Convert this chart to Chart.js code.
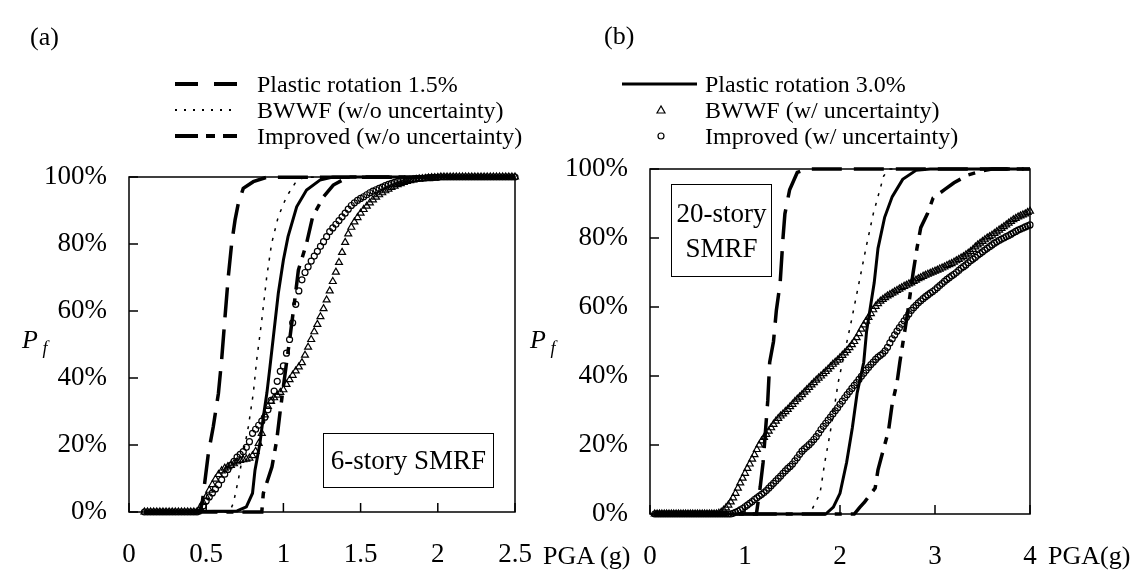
<!DOCTYPE html>
<html>
<head>
<meta charset="utf-8">
<script src="https://cdn.jsdelivr.net/npm/chart.js@4.4.1/dist/chart.umd.min.js"></script>
<style>
  body { margin: 0; background: #fff; }
  #wrap { position: relative; width: 1134px; height: 570px; overflow: hidden;
          font-family: "Liberation Serif", "Times New Roman", serif; color: #000; }
  canvas { position: absolute; top: 0; }
  .t { position: absolute; white-space: nowrap; line-height: 1; transform: translateY(-50%); }
  .box { position: absolute; border: 1.5px solid #000; box-sizing: border-box;
         display: flex; flex-direction: column; align-items: center; justify-content: center;
         font-size: 27px; line-height: 35px; }
  svg { position: absolute; left: 0; top: 0; }
</style>
</head>
<body>
<div id="wrap">
  <canvas id="chartA" width="567" height="570" style="left:0"></canvas>
  <canvas id="chartB" width="567" height="570" style="left:567px"></canvas>

  <svg width="1134" height="570">
    <line x1="175" y1="84" x2="237" y2="84" stroke="#000" stroke-width="4" stroke-dasharray="23 16"/>
    <line x1="175" y1="110" x2="237" y2="110" stroke="#000" stroke-width="2" stroke-dasharray="2 7"/>
    <line x1="175" y1="136" x2="237" y2="136" stroke="#000" stroke-width="4" stroke-dasharray="23 8 9 8"/>
    <line x1="622" y1="84" x2="697" y2="84" stroke="#000" stroke-width="3"/>
    <polygon points="661,106 657,113 665,113" fill="none" stroke="#000" stroke-width="1.2"/>
    <circle cx="661" cy="136" r="3" fill="none" stroke="#000" stroke-width="1.2"/>
  </svg>

  <div class="t" style="left:30px;top:37px;font-size:26px">(a)</div>
  <div class="t" style="left:604px;top:36px;font-size:26px">(b)</div>

  <div class="t" style="left:257px;top:84px;font-size:24px">Plastic rotation 1.5%</div>
  <div class="t" style="left:257px;top:110px;font-size:24px">BWWF (w/o uncertainty)</div>
  <div class="t" style="left:257px;top:136px;font-size:24px">Improved (w/o uncertainty)</div>
  <div class="t" style="left:705px;top:84px;font-size:24px">Plastic rotation 3.0%</div>
  <div class="t" style="left:705px;top:110px;font-size:24px">BWWF (w/ uncertainty)</div>
  <div class="t" style="left:705px;top:136px;font-size:24px">Improved (w/ uncertainty)</div>

  <div class="t" style="left:22px;top:342px;font-size:26px"><i>P</i><sub style="font-size:18px"><i> f</i></sub></div>
  <div class="t" style="left:530px;top:342px;font-size:26px"><i>P</i><sub style="font-size:18px"><i> f</i></sub></div>

  <div class="t" style="left:543px;top:556px;font-size:26px">PGA (g)</div>
  <div class="t" style="left:1048px;top:556px;font-size:26px">PGA(g)</div>

  <div class="box" style="left:323px;top:433px;width:171px;height:55px">6-story SMRF</div>
  <div class="box" style="left:671px;top:184px;width:101px;height:93px"><span>20-story</span><span>SMRF</span></div>
</div>

<script>
// ---------- panel (a): 6-story SMRF ----------
const a_rot15_x = [0.1, 0.46, 0.475, 0.514, 0.546, 0.579, 0.6, 0.622, 0.643, 0.665, 0.687, 0.708, 0.74, 0.805, 0.89, 2.5];
const a_rot15_y = [0, 0, 3, 17.5, 25.5, 35.4, 45.4, 58.3, 70.2, 80.2, 87.2, 92.1, 96.6, 98.6, 99.9, 100];

const a_bwwfDet_x = [0.1, 0.65, 0.676, 0.708, 0.74, 0.773, 0.805, 0.827, 0.86, 0.892, 0.924, 0.967, 1.02, 1.075, 1.13, 2.5];
const a_bwwfDet_y = [0, 0, 2.6, 9.6, 17.5, 25.5, 35.4, 45.4, 57.3, 70.2, 80.2, 88.2, 94.1, 98.1, 99.9, 100];

const a_impDet_x = [0.1, 0.86, 0.87, 0.926, 0.957, 0.98, 1.01, 1.043, 1.07, 1.097, 1.15, 1.19, 1.26, 1.323, 1.42, 2.5];
const a_impDet_y = [0, 0, 5.6, 13.5, 21.5, 30.4, 41, 52.3, 62, 72.2, 80.2, 88.2, 94.1, 97.6, 100, 100];

const a_rot30_x = [0.1, 0.7, 0.76, 0.8, 0.816, 0.848, 0.87, 0.893, 0.913, 0.935, 0.967, 1.0, 1.03, 1.086, 1.15, 1.237, 1.32, 2.5];
const a_rot30_y = [0, 0.3, 1.5, 5.6, 12.5, 20.5, 28.4, 35.5, 43.3, 52.3, 65.3, 75.2, 82.2, 91.1, 96.1, 99.1, 100, 100];

// uncertainty curves share one PGA grid
const a_pga = [
  0.10, 0.12, 0.14, 0.16, 0.18, 0.20, 0.22, 0.24, 0.26, 0.28,
  0.30, 0.32, 0.34, 0.36, 0.38, 0.40, 0.42, 0.44, 0.46, 0.48,
  0.50, 0.52, 0.54, 0.56, 0.58, 0.60, 0.62, 0.64, 0.66, 0.68,
  0.70, 0.72, 0.74, 0.76, 0.78, 0.80, 0.82, 0.84, 0.86, 0.88,
  0.90, 0.92, 0.94, 0.96, 0.98, 1.00, 1.02, 1.04, 1.06, 1.08,
  1.10, 1.12, 1.14, 1.16, 1.18, 1.20, 1.22, 1.24, 1.26, 1.28,
  1.30, 1.32, 1.34, 1.36, 1.38, 1.40, 1.42, 1.44, 1.46, 1.48,
  1.50, 1.52, 1.54, 1.56, 1.58, 1.60, 1.62, 1.64, 1.66, 1.68,
  1.70, 1.72, 1.74, 1.76, 1.78, 1.80, 1.82, 1.84, 1.86, 1.88,
  1.90, 1.92, 1.94, 1.96, 1.98, 2.00, 2.02, 2.04, 2.06, 2.08,
  2.10, 2.12, 2.14, 2.16, 2.18, 2.20, 2.22, 2.24, 2.26, 2.28,
  2.30, 2.32, 2.34, 2.36, 2.38, 2.40, 2.42, 2.44, 2.46, 2.48,
  2.50];
const a_bwwfUnc = [
  0, 0, 0, 0, 0, 0, 0, 0, 0, 0,
  0, 0, 0, 0, 0, 0, 0, 0, 1.3, 2.9,
  4.6, 6.5, 8.2, 9.8, 11.2, 12.3, 13.1, 13.5, 13.9, 14.4,
  15, 15.4, 15.6, 15.8, 16.1, 16.8, 18.1, 20.5, 23.5, 29,
  31.5, 33, 34.1, 34.9, 35.7, 36.5, 38.1, 39.5, 40.8, 42.1,
  43.3, 44.6, 46.8, 49.2, 51.5, 53.8, 56, 58.3, 60.7, 63.3,
  66, 68.8, 71.6, 74.5, 77.5, 80.5, 83, 85, 86.6, 87.9,
  89.2, 90.3, 91.3, 92.3, 93.2, 94, 94.7, 95.3, 95.9, 96.4,
  96.9, 97.3, 97.7, 98, 98.4, 98.7, 98.9, 99.1, 99.3, 99.4,
  99.5, 99.6, 99.7, 99.8, 99.8, 99.9, 100, 100, 100, 100,
  100, 100, 100, 100, 100, 100, 100, 100, 100, 100,
  100, 100, 100, 100, 100, 100, 100, 100, 100, 100,
  100];
const a_impUnc = [
  0, 0, 0, 0, 0, 0, 0, 0, 0, 0,
  0, 0, 0, 0, 0, 0, 0, 0, 0.5, 1.8,
  3.3, 4.5, 5.7, 6.9, 8.1, 9.6, 11.3, 12.7, 14, 15.1,
  16.4, 17.2, 18, 19.3, 21, 23.5, 24.7, 25.9, 27.1, 28.3,
  30.5, 33.3, 36.1, 39, 42, 43.6, 47.4, 51.5, 56.5, 62,
  66, 69.3, 71.5, 73.2, 74.9, 76.4, 77.8, 79.3, 80.7, 82.2,
  83.7, 84.8, 85.9, 87, 88.1, 89.2, 90.4, 91.5, 92.3, 93,
  93.6, 94.1, 94.7, 95.3, 95.8, 96.2, 96.6, 97, 97.4, 97.8,
  98.1, 98.4, 98.7, 98.9, 99.1, 99.2, 99.3, 99.4, 99.5, 99.6,
  99.6, 99.7, 99.8, 99.8, 99.9, 99.9, 100, 100, 100, 100,
  100, 100, 100, 100, 100, 100, 100, 100, 100, 100,
  100, 100, 100, 100, 100, 100, 100, 100, 100, 100,
  100];

// ---------- panel (b): 20-story SMRF ----------
const b_rot15_x = [0.05, 1.12, 1.16, 1.19, 1.21, 1.24, 1.26, 1.3, 1.33, 1.37, 1.4, 1.42, 1.47, 1.55, 1.65, 4.0];
const b_rot15_y = [0, 0, 7.8, 14.8, 22, 33, 44, 50, 59, 67, 80, 87, 94, 99, 100, 100];

const b_bwwfDet_x = [0.05, 1.65, 1.7, 1.79, 1.84, 1.88, 1.93, 1.98, 2.05, 2.12, 2.2, 2.28, 2.35, 2.42, 2.46, 2.52, 4.0];
const b_bwwfDet_y = [0, 0, 1, 6, 15, 21, 29, 38, 47, 56, 67, 78, 87, 94, 98, 100, 100];

const b_impDet_x = [0.05, 2.15, 2.21, 2.26, 2.37, 2.4, 2.45, 2.51, 2.55, 2.6, 2.63, 2.67, 2.71, 2.74, 2.77, 2.81, 2.85, 2.92, 2.98, 3.1, 3.2, 3.35, 3.5, 3.6, 4.0];
const b_impDet_y = [0, 0, 2, 3.5, 7.5, 12.8, 18, 24, 32, 38, 44, 51, 58, 64, 70, 77, 83, 87, 91.6, 94, 96, 98.3, 99.5, 100, 100];

const b_rot30_x = [0.05, 1.85, 1.93, 2.0, 2.07, 2.13, 2.18, 2.25, 2.28, 2.32, 2.36, 2.4, 2.47, 2.55, 2.66, 2.8, 2.95, 4.0];
const b_rot30_y = [0, 0, 2, 6, 15, 25, 35, 44, 53, 60, 67, 77, 86, 92, 97, 99.6, 100, 100];

const b_pga = [
  0.05, 0.075, 0.1, 0.125, 0.15, 0.175, 0.2, 0.225,
  0.25, 0.275, 0.3, 0.325, 0.35, 0.375, 0.4, 0.425,
  0.45, 0.475, 0.5, 0.525, 0.55, 0.575, 0.6, 0.625,
  0.65, 0.675, 0.7, 0.725, 0.75, 0.775, 0.8, 0.825,
  0.85, 0.875, 0.9, 0.925, 0.95, 0.975, 1.0, 1.025,
  1.05, 1.075, 1.1, 1.125, 1.15, 1.175, 1.2, 1.225,
  1.25, 1.275, 1.3, 1.325, 1.35, 1.375, 1.4, 1.425,
  1.45, 1.475, 1.5, 1.525, 1.55, 1.575, 1.6, 1.625,
  1.65, 1.675, 1.7, 1.725, 1.75, 1.775, 1.8, 1.825,
  1.85, 1.875, 1.9, 1.925, 1.95, 1.975, 2.0, 2.025,
  2.05, 2.075, 2.1, 2.125, 2.15, 2.175, 2.2, 2.225,
  2.25, 2.275, 2.3, 2.325, 2.35, 2.375, 2.4, 2.425,
  2.45, 2.475, 2.5, 2.525, 2.55, 2.575, 2.6, 2.625,
  2.65, 2.675, 2.7, 2.725, 2.75, 2.775, 2.8, 2.825,
  2.85, 2.875, 2.9, 2.925, 2.95, 2.975, 3.0, 3.025,
  3.05, 3.075, 3.1, 3.125, 3.15, 3.175, 3.2, 3.225,
  3.25, 3.275, 3.3, 3.325, 3.35, 3.375, 3.4, 3.425,
  3.45, 3.475, 3.5, 3.525, 3.55, 3.575, 3.6, 3.625,
  3.65, 3.675, 3.7, 3.725, 3.75, 3.775, 3.8, 3.825,
  3.85, 3.875, 3.9, 3.925, 3.95, 3.975, 4.0];
const b_bwwfUnc = [
  0, 0, 0, 0, 0, 0, 0, 0,
  0, 0, 0, 0, 0, 0, 0, 0,
  0, 0, 0, 0, 0, 0, 0, 0,
  0, 0, 0, 0.2, 0.5, 1.1, 1.8, 2.6,
  3.5, 4.7, 6, 7.5, 9, 10.4, 11.8, 13.2,
  14.5, 15.9, 17.2, 18.7, 20, 21.2, 22.2, 23.1,
  24, 25, 26, 26.9, 27.7, 28.4, 29, 29.7,
  30.3, 31.1, 31.8, 32.6, 33.3, 33.9, 34.6, 35.3,
  36, 36.7, 37.4, 38.1, 38.8, 39.4, 40, 40.7,
  41.3, 42, 42.7, 43.4, 44, 44.6, 45.3, 46,
  46.7, 47.4, 48.2, 49.1, 50, 51.1, 52.3, 53.6,
  54.8, 55.9, 57, 58.1, 59.2, 60.2, 61, 61.7,
  62.2, 62.7, 63.2, 63.6, 64, 64.4, 64.8, 65.2,
  65.6, 66, 66.3, 66.7, 67, 67.4, 67.8, 68.2,
  68.5, 68.9, 69.2, 69.5, 69.8, 70.1, 70.4, 70.7,
  71, 71.3, 71.6, 72, 72.3, 72.6, 73, 73.4,
  73.8, 74.2, 74.6, 75.1, 75.6, 76.1, 76.7, 77.4,
  78, 78.5, 79, 79.5, 80, 80.4, 80.8, 81.3,
  81.8, 82.3, 82.8, 83.3, 83.8, 84.3, 84.8, 85.3,
  85.7, 86.1, 86.4, 86.7, 87, 87.4, 87.8];
const b_impUnc = [
  0, 0, 0, 0, 0, 0, 0, 0,
  0, 0, 0, 0, 0, 0, 0, 0,
  0, 0, 0, 0, 0, 0, 0, 0,
  0, 0, 0, 0, 0, 0, 0, 0,
  0, 0.2, 0.5, 0.8, 1.2, 1.6, 2.1, 2.6,
  3.1, 3.6, 4.2, 4.7, 5.2, 5.7, 6.2, 6.8,
  7.5, 8.2, 8.9, 9.6, 10.3, 11, 11.8, 12.5,
  13.2, 13.8, 14.5, 15.4, 16.3, 17.3, 18.2, 18.9,
  19.5, 20.1, 20.8, 21.6, 22.4, 23.4, 24.5, 25.4,
  26.3, 27.2, 28.1, 29, 29.9, 30.8, 31.8, 32.7,
  33.7, 34.6, 35.5, 36.4, 37.3, 38.1, 39, 39.9,
  40.8, 41.7, 42.5, 43.3, 44, 44.8, 45.5, 46,
  46.5, 47.3, 48.3, 49.6, 50.8, 51.9, 53, 54,
  55, 56, 57, 58, 59, 59.8, 60.5, 61.2,
  61.8, 62.4, 63, 63.5, 64, 64.5, 65, 65.6,
  66.2, 66.8, 67.4, 68, 68.5, 69, 69.5, 70,
  70.6, 71.2, 71.7, 72.2, 72.8, 73.4, 73.9, 74.4,
  75, 75.5, 76, 76.5, 77, 77.5, 78, 78.5,
  78.9, 79.3, 79.7, 80, 80.4, 80.7, 81.1, 81.5,
  81.9, 82.3, 82.6, 82.9, 83.2, 83.5, 83.8];

const yTicks = [0, 20, 40, 60, 80, 100];

const FONT = '"Liberation Serif", "Times New Roman", serif';

function pts(xs, ys) {
  return xs.map((x, i) => ({ x: x, y: ys[i] }));
}

function lineSet(xs, ys, dash, width) {
  return {
    data: pts(xs, ys), borderColor: '#000', borderWidth: width, borderDash: dash,
    pointRadius: 0, tension: 0, fill: false, clip: false
  };
}

function markerSet(xs, ys, style, r) {
  return {
    data: pts(xs, ys), showLine: false, pointStyle: style, pointRadius: r,
    pointBorderColor: '#000', pointBackgroundColor: 'rgba(0,0,0,0)', pointBorderWidth: 1.2, clip: false
  };
}

// box round the plot area plus the inward tick marks
const frameTicks = {
  id: 'frameTicks',
  beforeDatasetsDraw(chart) {
    const ctx = chart.ctx;
    const a = chart.chartArea;
    const sx = chart.scales.x, sy = chart.scales.y;
    ctx.save();
    ctx.strokeStyle = '#000';
    ctx.lineWidth = 1.5;
    ctx.strokeRect(a.left, a.top, a.right - a.left, a.bottom - a.top);
    ctx.beginPath();
    sx.ticks.forEach(t => {
      const px = sx.getPixelForValue(t.value);
      ctx.moveTo(px, a.bottom);
      ctx.lineTo(px, a.bottom - 9);
    });
    sy.ticks.forEach(t => {
      const py = sy.getPixelForValue(t.value);
      ctx.moveTo(a.left, py);
      ctx.lineTo(a.left + 9, py);
    });
    ctx.stroke();
    ctx.restore();
  }
};

function makeChart(id, datasets, xMax, xStep, area) {
  return new Chart(document.getElementById(id), {
    type: 'line',
    data: { datasets: datasets },
    plugins: [frameTicks],
    options: {
      responsive: false,
      animation: false,
      layout: { padding: { top: area.top, right: area.right, bottom: 0, left: 0 } },
      plugins: { legend: { display: false }, tooltip: { enabled: false } },
      scales: {
        x: {
          type: 'linear', min: 0, max: xMax,
          grid: { display: false, drawTicks: false }, border: { display: false },
          ticks: { stepSize: xStep, autoSkip: false, maxRotation: 0, padding: 27, color: '#000',
                   font: { family: FONT, size: 27 }, callback: v => String(v) },
          afterFit: s => { s.height = area.xh; }
        },
        y: {
          min: 0, max: 100,
          grid: { display: false, drawTicks: false }, border: { display: false },
          afterBuildTicks: s => { s.ticks = yTicks.map(v => ({ value: v })); },
          ticks: { padding: 22, color: '#000', font: { family: FONT, size: 27 }, callback: v => v + '%' },
          afterFit: s => { s.width = area.yw; }
        }
      }
    }
  });
}

makeChart('chartA', [
  lineSet(a_rot15_x, a_rot15_y, [30, 12], 3.5),
  lineSet(a_bwwfDet_x, a_bwwfDet_y, [3, 7], 1.5),
  lineSet(a_impDet_x, a_impDet_y, [24, 9, 7, 9], 3.5),
  lineSet(a_rot30_x, a_rot30_y, [], 3),
  markerSet(a_pga, a_bwwfUnc, 'triangle', 4),
  markerSet(a_pga, a_impUnc, 'circle', 3)
], 2.5, 0.5, { top: 177, right: 52, xh: 58, yw: 129 });

makeChart('chartB', [
  lineSet(b_rot15_x, b_rot15_y, [30, 12], 3.5),
  lineSet(b_bwwfDet_x, b_bwwfDet_y, [3, 7], 1.5),
  lineSet(b_impDet_x, b_impDet_y, [24, 9, 7, 9], 3.5),
  lineSet(b_rot30_x, b_rot30_y, [], 3),
  markerSet(b_pga, b_bwwfUnc, 'triangle', 4),
  markerSet(b_pga, b_impUnc, 'circle', 3)
], 4, 1, { top: 169, right: 104, xh: 56, yw: 83 });
</script>
</body>
</html>
